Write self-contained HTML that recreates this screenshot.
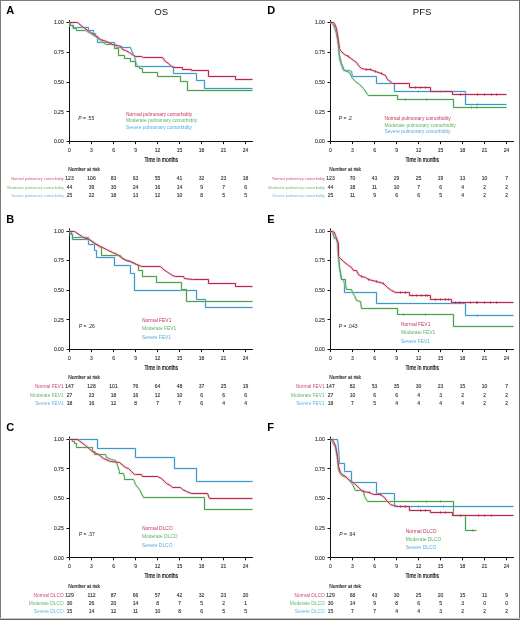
<!DOCTYPE html>
<html><head><meta charset="utf-8"><style>
html,body{margin:0;padding:0;background:#fff;}
body{width:520px;height:620px;overflow:hidden;}
svg{will-change:transform;position:absolute;left:0;top:0;font-family:"Liberation Sans",sans-serif;}
</style></head><body>
<svg width="520" height="620" viewBox="0 0 520 620">
<rect width="520" height="620" fill="#fff"/>
<text x="6.30" y="14.10" font-size="11" fill="#000" font-weight="bold">A</text>
<text x="161.21" y="14.60" font-size="9.6" fill="#111" text-anchor="middle">OS</text>
<path d="M69.50 20.00V141.50H252.92" fill="none" stroke="#111" stroke-width="1"/>
<path d="M66.50 22.50H69.50" stroke="#111" stroke-width="1"/>
<text x="63.70" y="24.40" font-size="5" fill="#333" text-anchor="end" stroke="#333" stroke-width="0.12">1.00</text>
<path d="M66.50 52.50H69.50" stroke="#111" stroke-width="1"/>
<text x="63.70" y="54.12" font-size="5" fill="#333" text-anchor="end" stroke="#333" stroke-width="0.12">0.75</text>
<path d="M66.50 82.50H69.50" stroke="#111" stroke-width="1"/>
<text x="63.70" y="83.85" font-size="5" fill="#333" text-anchor="end" stroke="#333" stroke-width="0.12">0.50</text>
<path d="M66.50 111.50H69.50" stroke="#111" stroke-width="1"/>
<text x="63.70" y="113.58" font-size="5" fill="#333" text-anchor="end" stroke="#333" stroke-width="0.12">0.25</text>
<path d="M66.50 141.50H69.50" stroke="#111" stroke-width="1"/>
<text x="63.70" y="143.30" font-size="5" fill="#333" text-anchor="end" stroke="#333" stroke-width="0.12">0.00</text>
<path d="M69.50 141.50V144.10" stroke="#111" stroke-width="1"/>
<text x="69.50" y="151.90" font-size="5" fill="#333" text-anchor="middle" stroke="#333" stroke-width="0.12">0</text>
<path d="M91.50 141.50V144.10" stroke="#111" stroke-width="1"/>
<text x="91.51" y="151.90" font-size="5" fill="#333" text-anchor="middle" stroke="#333" stroke-width="0.12">3</text>
<path d="M113.50 141.50V144.10" stroke="#111" stroke-width="1"/>
<text x="113.52" y="151.90" font-size="5" fill="#333" text-anchor="middle" stroke="#333" stroke-width="0.12">6</text>
<path d="M135.50 141.50V144.10" stroke="#111" stroke-width="1"/>
<text x="135.53" y="151.90" font-size="5" fill="#333" text-anchor="middle" stroke="#333" stroke-width="0.12">9</text>
<path d="M157.50 141.50V144.10" stroke="#111" stroke-width="1"/>
<text x="157.54" y="151.90" font-size="5" fill="#333" text-anchor="middle" stroke="#333" stroke-width="0.12">12</text>
<path d="M179.50 141.50V144.10" stroke="#111" stroke-width="1"/>
<text x="179.56" y="151.90" font-size="5" fill="#333" text-anchor="middle" stroke="#333" stroke-width="0.12">15</text>
<path d="M201.50 141.50V144.10" stroke="#111" stroke-width="1"/>
<text x="201.57" y="151.90" font-size="5" fill="#333" text-anchor="middle" stroke="#333" stroke-width="0.12">18</text>
<path d="M223.50 141.50V144.10" stroke="#111" stroke-width="1"/>
<text x="223.58" y="151.90" font-size="5" fill="#333" text-anchor="middle" stroke="#333" stroke-width="0.12">21</text>
<path d="M245.50 141.50V144.10" stroke="#111" stroke-width="1"/>
<text x="245.59" y="151.90" font-size="5" fill="#333" text-anchor="middle" stroke="#333" stroke-width="0.12">24</text>
<text x="161.21" y="162.10" font-size="7" fill="#111" stroke="#111" stroke-width="0.2" text-anchor="middle" textLength="33.5" lengthAdjust="spacingAndGlyphs">Time in months</text>
<text x="68.20" y="171.30" font-size="4.9" fill="#222" stroke="#222" stroke-width="0.12">Number at risk</text>
<text x="63.70" y="180.40" font-size="3.88" fill="#d6567e" text-anchor="end">Normal pulmonary comorbidity</text>
<text x="69.50" y="180.40" font-size="5" fill="#333" text-anchor="middle" stroke="#333" stroke-width="0.12">123</text>
<text x="91.51" y="180.40" font-size="5" fill="#333" text-anchor="middle" stroke="#333" stroke-width="0.12">106</text>
<text x="113.52" y="180.40" font-size="5" fill="#333" text-anchor="middle" stroke="#333" stroke-width="0.12">83</text>
<text x="135.53" y="180.40" font-size="5" fill="#333" text-anchor="middle" stroke="#333" stroke-width="0.12">63</text>
<text x="157.54" y="180.40" font-size="5" fill="#333" text-anchor="middle" stroke="#333" stroke-width="0.12">55</text>
<text x="179.56" y="180.40" font-size="5" fill="#333" text-anchor="middle" stroke="#333" stroke-width="0.12">41</text>
<text x="201.57" y="180.40" font-size="5" fill="#333" text-anchor="middle" stroke="#333" stroke-width="0.12">32</text>
<text x="223.58" y="180.40" font-size="5" fill="#333" text-anchor="middle" stroke="#333" stroke-width="0.12">23</text>
<text x="245.59" y="180.40" font-size="5" fill="#333" text-anchor="middle" stroke="#333" stroke-width="0.12">18</text>
<text x="63.70" y="188.70" font-size="3.88" fill="#6fbf6f" text-anchor="end">Moderate pulmonary comorbidity</text>
<text x="69.50" y="188.70" font-size="5" fill="#333" text-anchor="middle" stroke="#333" stroke-width="0.12">44</text>
<text x="91.51" y="188.70" font-size="5" fill="#333" text-anchor="middle" stroke="#333" stroke-width="0.12">39</text>
<text x="113.52" y="188.70" font-size="5" fill="#333" text-anchor="middle" stroke="#333" stroke-width="0.12">30</text>
<text x="135.53" y="188.70" font-size="5" fill="#333" text-anchor="middle" stroke="#333" stroke-width="0.12">24</text>
<text x="157.54" y="188.70" font-size="5" fill="#333" text-anchor="middle" stroke="#333" stroke-width="0.12">16</text>
<text x="179.56" y="188.70" font-size="5" fill="#333" text-anchor="middle" stroke="#333" stroke-width="0.12">14</text>
<text x="201.57" y="188.70" font-size="5" fill="#333" text-anchor="middle" stroke="#333" stroke-width="0.12">9</text>
<text x="223.58" y="188.70" font-size="5" fill="#333" text-anchor="middle" stroke="#333" stroke-width="0.12">7</text>
<text x="245.59" y="188.70" font-size="5" fill="#333" text-anchor="middle" stroke="#333" stroke-width="0.12">6</text>
<text x="63.70" y="197.00" font-size="3.88" fill="#6cbce6" text-anchor="end">Severe pulmonary comorbidity</text>
<text x="69.50" y="197.00" font-size="5" fill="#333" text-anchor="middle" stroke="#333" stroke-width="0.12">25</text>
<text x="91.51" y="197.00" font-size="5" fill="#333" text-anchor="middle" stroke="#333" stroke-width="0.12">22</text>
<text x="113.52" y="197.00" font-size="5" fill="#333" text-anchor="middle" stroke="#333" stroke-width="0.12">18</text>
<text x="135.53" y="197.00" font-size="5" fill="#333" text-anchor="middle" stroke="#333" stroke-width="0.12">13</text>
<text x="157.54" y="197.00" font-size="5" fill="#333" text-anchor="middle" stroke="#333" stroke-width="0.12">12</text>
<text x="179.56" y="197.00" font-size="5" fill="#333" text-anchor="middle" stroke="#333" stroke-width="0.12">10</text>
<text x="201.57" y="197.00" font-size="5" fill="#333" text-anchor="middle" stroke="#333" stroke-width="0.12">8</text>
<text x="223.58" y="197.00" font-size="5" fill="#333" text-anchor="middle" stroke="#333" stroke-width="0.12">5</text>
<text x="245.59" y="197.00" font-size="5" fill="#333" text-anchor="middle" stroke="#333" stroke-width="0.12">5</text>
<text x="78.20" y="119.90" font-size="5" fill="#222"><tspan font-style="italic">P</tspan> = .55</text>
<text x="126.00" y="115.60" font-size="4.9" fill="#c8305a">Normal pulmonary comorbidity</text>
<text x="126.00" y="122.30" font-size="4.9" fill="#5cb25c">Moderate pulmonary comorbidity</text>
<text x="126.00" y="129.00" font-size="4.9" fill="#55aade">Severe pulmonary comorbidity</text>
<path d="M69.5 22.5 L70.5 22.5 L70.5 25.5 L72.5 25.5 L72.5 27.5 L88.5 27.5 L88.5 30.5 L93.5 30.5 L93.5 33.5 L95.5 33.5 L95.5 36.5 L97.5 36.5 L97.5 42.5 L114.5 42.5 L114.5 45.5 L116.5 45.5 L116.5 47.5 L130.5 47.5 L131.5 50.5 L133.5 54.5 L134.5 55.5 L135.5 61.5 L137.5 66.5 L173.5 66.5 L173.5 73.5 L196.5 73.5 L196.5 80.5 L204.5 80.5 L204.5 88.5 L252.5 88.5" fill="none" stroke="#b0ddf2" stroke-width="2.6" stroke-opacity="0.45"/>
<path d="M69.5 22.5 L70.5 22.5 L70.5 25.5 L72.5 25.5 L72.5 27.5 L88.5 27.5 L88.5 30.5 L93.5 30.5 L93.5 33.5 L95.5 33.5 L95.5 36.5 L97.5 36.5 L97.5 42.5 L114.5 42.5 L114.5 45.5 L116.5 45.5 L116.5 47.5 L130.5 47.5 L131.5 50.5 L133.5 54.5 L134.5 55.5 L135.5 61.5 L137.5 66.5 L173.5 66.5 L173.5 73.5 L196.5 73.5 L196.5 80.5 L204.5 80.5 L204.5 88.5 L252.5 88.5" fill="none" stroke="#4096c8" stroke-width="1"/>
<path d="M69.5 22.5 L70.5 22.5 L70.5 25.5 L73.5 25.5 L73.5 28.5 L76.5 28.5 L76.5 30.5 L85.5 30.5 L90.5 33.5 L95.5 36.5 L100.5 40.5 L106.5 44.5 L114.5 44.5 L114.5 48.5 L118.5 48.5 L118.5 55.5 L124.5 55.5 L124.5 58.5 L130.5 58.5 L130.5 61.5 L135.5 61.5 L135.5 66.5 L139.5 66.5 L139.5 68.5 L142.5 68.5 L142.5 72.5 L157.5 72.5 L157.5 76.5 L180.5 76.5 L180.5 81.5 L187.5 81.5 L187.5 90.5 L252.5 90.5" fill="none" stroke="#b8e0b8" stroke-width="2.6" stroke-opacity="0.45"/>
<path d="M69.5 22.5 L70.5 22.5 L70.5 25.5 L73.5 25.5 L73.5 28.5 L76.5 28.5 L76.5 30.5 L85.5 30.5 L90.5 33.5 L95.5 36.5 L100.5 40.5 L106.5 44.5 L114.5 44.5 L114.5 48.5 L118.5 48.5 L118.5 55.5 L124.5 55.5 L124.5 58.5 L130.5 58.5 L130.5 61.5 L135.5 61.5 L135.5 66.5 L139.5 66.5 L139.5 68.5 L142.5 68.5 L142.5 72.5 L157.5 72.5 L157.5 76.5 L180.5 76.5 L180.5 81.5 L187.5 81.5 L187.5 90.5 L252.5 90.5" fill="none" stroke="#4a9e4c" stroke-width="1"/>
<path d="M69.5 22.5 L77.5 22.5 L83.5 27.5 L89.5 31.5 L95.5 35.5 L100.5 39.5 L106.5 41.5 L112.5 44.5 L117.5 45.5 L121.5 46.5 L122.5 49.5 L125.5 50.5 L129.5 52.5 L133.5 55.5 L135.5 56.5 L141.5 56.5 L143.5 57.5 L162.5 57.5 L165.5 61.5 L168.5 63.5 L171.5 66.5 L173.5 67.5 L182.5 67.5 L182.5 69.5 L191.5 69.5 L191.5 70.5 L208.5 70.5 L208.5 76.5 L235.5 76.5 L235.5 79.5 L252.5 79.5" fill="none" stroke="#e8a0b4" stroke-width="2.6" stroke-opacity="0.45"/>
<path d="M69.5 22.5 L77.5 22.5 L83.5 27.5 L89.5 31.5 L95.5 35.5 L100.5 39.5 L106.5 41.5 L112.5 44.5 L117.5 45.5 L121.5 46.5 L122.5 49.5 L125.5 50.5 L129.5 52.5 L133.5 55.5 L135.5 56.5 L141.5 56.5 L143.5 57.5 L162.5 57.5 L165.5 61.5 L168.5 63.5 L171.5 66.5 L173.5 67.5 L182.5 67.5 L182.5 69.5 L191.5 69.5 L191.5 70.5 L208.5 70.5 L208.5 76.5 L235.5 76.5 L235.5 79.5 L252.5 79.5" fill="none" stroke="#b52a50" stroke-width="1"/>
<text x="267.30" y="14.10" font-size="11" fill="#000" font-weight="bold">D</text>
<text x="422.21" y="14.60" font-size="9.6" fill="#111" text-anchor="middle">PFS</text>
<path d="M330.50 20.00V141.50H513.92" fill="none" stroke="#111" stroke-width="1"/>
<path d="M327.50 22.50H330.50" stroke="#111" stroke-width="1"/>
<text x="324.70" y="24.40" font-size="5" fill="#333" text-anchor="end" stroke="#333" stroke-width="0.12">1.00</text>
<path d="M327.50 52.50H330.50" stroke="#111" stroke-width="1"/>
<text x="324.70" y="54.12" font-size="5" fill="#333" text-anchor="end" stroke="#333" stroke-width="0.12">0.75</text>
<path d="M327.50 82.50H330.50" stroke="#111" stroke-width="1"/>
<text x="324.70" y="83.85" font-size="5" fill="#333" text-anchor="end" stroke="#333" stroke-width="0.12">0.50</text>
<path d="M327.50 111.50H330.50" stroke="#111" stroke-width="1"/>
<text x="324.70" y="113.58" font-size="5" fill="#333" text-anchor="end" stroke="#333" stroke-width="0.12">0.25</text>
<path d="M327.50 141.50H330.50" stroke="#111" stroke-width="1"/>
<text x="324.70" y="143.30" font-size="5" fill="#333" text-anchor="end" stroke="#333" stroke-width="0.12">0.00</text>
<path d="M330.50 141.50V144.10" stroke="#111" stroke-width="1"/>
<text x="330.50" y="151.90" font-size="5" fill="#333" text-anchor="middle" stroke="#333" stroke-width="0.12">0</text>
<path d="M352.50 141.50V144.10" stroke="#111" stroke-width="1"/>
<text x="352.51" y="151.90" font-size="5" fill="#333" text-anchor="middle" stroke="#333" stroke-width="0.12">3</text>
<path d="M374.50 141.50V144.10" stroke="#111" stroke-width="1"/>
<text x="374.52" y="151.90" font-size="5" fill="#333" text-anchor="middle" stroke="#333" stroke-width="0.12">6</text>
<path d="M396.50 141.50V144.10" stroke="#111" stroke-width="1"/>
<text x="396.53" y="151.90" font-size="5" fill="#333" text-anchor="middle" stroke="#333" stroke-width="0.12">9</text>
<path d="M418.50 141.50V144.10" stroke="#111" stroke-width="1"/>
<text x="418.54" y="151.90" font-size="5" fill="#333" text-anchor="middle" stroke="#333" stroke-width="0.12">12</text>
<path d="M440.50 141.50V144.10" stroke="#111" stroke-width="1"/>
<text x="440.56" y="151.90" font-size="5" fill="#333" text-anchor="middle" stroke="#333" stroke-width="0.12">15</text>
<path d="M462.50 141.50V144.10" stroke="#111" stroke-width="1"/>
<text x="462.57" y="151.90" font-size="5" fill="#333" text-anchor="middle" stroke="#333" stroke-width="0.12">18</text>
<path d="M484.50 141.50V144.10" stroke="#111" stroke-width="1"/>
<text x="484.58" y="151.90" font-size="5" fill="#333" text-anchor="middle" stroke="#333" stroke-width="0.12">21</text>
<path d="M506.50 141.50V144.10" stroke="#111" stroke-width="1"/>
<text x="506.59" y="151.90" font-size="5" fill="#333" text-anchor="middle" stroke="#333" stroke-width="0.12">24</text>
<text x="422.21" y="162.10" font-size="7" fill="#111" stroke="#111" stroke-width="0.2" text-anchor="middle" textLength="33.5" lengthAdjust="spacingAndGlyphs">Time in months</text>
<text x="329.20" y="171.30" font-size="4.9" fill="#222" stroke="#222" stroke-width="0.12">Number at risk</text>
<text x="324.70" y="180.40" font-size="3.88" fill="#d6567e" text-anchor="end">Normal pulmonary comorbidity</text>
<text x="330.50" y="180.40" font-size="5" fill="#333" text-anchor="middle" stroke="#333" stroke-width="0.12">123</text>
<text x="352.51" y="180.40" font-size="5" fill="#333" text-anchor="middle" stroke="#333" stroke-width="0.12">70</text>
<text x="374.52" y="180.40" font-size="5" fill="#333" text-anchor="middle" stroke="#333" stroke-width="0.12">43</text>
<text x="396.53" y="180.40" font-size="5" fill="#333" text-anchor="middle" stroke="#333" stroke-width="0.12">29</text>
<text x="418.54" y="180.40" font-size="5" fill="#333" text-anchor="middle" stroke="#333" stroke-width="0.12">25</text>
<text x="440.56" y="180.40" font-size="5" fill="#333" text-anchor="middle" stroke="#333" stroke-width="0.12">19</text>
<text x="462.57" y="180.40" font-size="5" fill="#333" text-anchor="middle" stroke="#333" stroke-width="0.12">13</text>
<text x="484.58" y="180.40" font-size="5" fill="#333" text-anchor="middle" stroke="#333" stroke-width="0.12">10</text>
<text x="506.59" y="180.40" font-size="5" fill="#333" text-anchor="middle" stroke="#333" stroke-width="0.12">7</text>
<text x="324.70" y="188.70" font-size="3.88" fill="#6fbf6f" text-anchor="end">Moderate pulmonary comorbidity</text>
<text x="330.50" y="188.70" font-size="5" fill="#333" text-anchor="middle" stroke="#333" stroke-width="0.12">44</text>
<text x="352.51" y="188.70" font-size="5" fill="#333" text-anchor="middle" stroke="#333" stroke-width="0.12">18</text>
<text x="374.52" y="188.70" font-size="5" fill="#333" text-anchor="middle" stroke="#333" stroke-width="0.12">11</text>
<text x="396.53" y="188.70" font-size="5" fill="#333" text-anchor="middle" stroke="#333" stroke-width="0.12">10</text>
<text x="418.54" y="188.70" font-size="5" fill="#333" text-anchor="middle" stroke="#333" stroke-width="0.12">7</text>
<text x="440.56" y="188.70" font-size="5" fill="#333" text-anchor="middle" stroke="#333" stroke-width="0.12">6</text>
<text x="462.57" y="188.70" font-size="5" fill="#333" text-anchor="middle" stroke="#333" stroke-width="0.12">4</text>
<text x="484.58" y="188.70" font-size="5" fill="#333" text-anchor="middle" stroke="#333" stroke-width="0.12">2</text>
<text x="506.59" y="188.70" font-size="5" fill="#333" text-anchor="middle" stroke="#333" stroke-width="0.12">2</text>
<text x="324.70" y="197.00" font-size="3.88" fill="#6cbce6" text-anchor="end">Severe pulmonary comorbidity</text>
<text x="330.50" y="197.00" font-size="5" fill="#333" text-anchor="middle" stroke="#333" stroke-width="0.12">25</text>
<text x="352.51" y="197.00" font-size="5" fill="#333" text-anchor="middle" stroke="#333" stroke-width="0.12">11</text>
<text x="374.52" y="197.00" font-size="5" fill="#333" text-anchor="middle" stroke="#333" stroke-width="0.12">9</text>
<text x="396.53" y="197.00" font-size="5" fill="#333" text-anchor="middle" stroke="#333" stroke-width="0.12">6</text>
<text x="418.54" y="197.00" font-size="5" fill="#333" text-anchor="middle" stroke="#333" stroke-width="0.12">6</text>
<text x="440.56" y="197.00" font-size="5" fill="#333" text-anchor="middle" stroke="#333" stroke-width="0.12">5</text>
<text x="462.57" y="197.00" font-size="5" fill="#333" text-anchor="middle" stroke="#333" stroke-width="0.12">4</text>
<text x="484.58" y="197.00" font-size="5" fill="#333" text-anchor="middle" stroke="#333" stroke-width="0.12">2</text>
<text x="506.59" y="197.00" font-size="5" fill="#333" text-anchor="middle" stroke="#333" stroke-width="0.12">2</text>
<text x="338.70" y="119.80" font-size="5" fill="#222"><tspan font-style="italic">P</tspan> = .2</text>
<text x="384.40" y="119.80" font-size="4.9" fill="#c8305a">Normal pulmonary comorbidity</text>
<text x="384.40" y="126.50" font-size="4.9" fill="#5cb25c">Moderate pulmonary comorbidity</text>
<text x="384.40" y="133.20" font-size="4.9" fill="#55aade">Severe pulmonary comorbidity</text>
<path d="M330.5 22.5 L333.5 22.5 L335.5 28.5 L337.5 38.5 L338.5 48.5 L339.5 59.5 L341.5 65.5 L343.5 70.5 L349.5 70.5 L351.5 71.5 L352.5 76.5 L376.5 76.5 L376.5 83.5 L394.5 83.5 L394.5 91.5 L465.5 91.5 L465.5 104.5 L506.5 104.5" fill="none" stroke="#b0ddf2" stroke-width="2.6" stroke-opacity="0.45"/>
<path d="M330.5 22.5 L333.5 22.5 L335.5 28.5 L337.5 38.5 L338.5 48.5 L339.5 59.5 L341.5 65.5 L343.5 70.5 L349.5 70.5 L351.5 71.5 L352.5 76.5 L376.5 76.5 L376.5 83.5 L394.5 83.5 L394.5 91.5 L465.5 91.5 L465.5 104.5 L506.5 104.5" fill="none" stroke="#4096c8" stroke-width="1"/>
<path d="M330.5 22.5 L332.5 23.5 L334.5 27.5 L336.5 33.5 L338.5 45.5 L339.5 55.5 L341.5 63.5 L344.5 70.5 L349.5 72.5 L352.5 78.5 L355.5 81.5 L359.5 84.5 L363.5 88.5 L367.5 94.5 L368.5 95.5 L397.5 95.5 L397.5 99.5 L453.5 99.5 L453.5 107.5 L506.5 107.5" fill="none" stroke="#b8e0b8" stroke-width="2.6" stroke-opacity="0.45"/>
<path d="M330.5 22.5 L332.5 23.5 L334.5 27.5 L336.5 33.5 L338.5 45.5 L339.5 55.5 L341.5 63.5 L344.5 70.5 L349.5 72.5 L352.5 78.5 L355.5 81.5 L359.5 84.5 L363.5 88.5 L367.5 94.5 L368.5 95.5 L397.5 95.5 L397.5 99.5 L453.5 99.5 L453.5 107.5 L506.5 107.5" fill="none" stroke="#4a9e4c" stroke-width="1"/>
<path d="M330.5 22.5 L333.5 22.5 L334.5 23.5 L336.5 28.5 L338.5 40.5 L339.5 48.5 L340.5 50.5 L344.5 54.5 L348.5 56.5 L353.5 60.5 L356.5 62.5 L358.5 65.5 L361.5 68.5 L366.5 69.5 L370.5 69.5 L375.5 71.5 L381.5 73.5 L385.5 75.5 L387.5 79.5 L391.5 82.5 L392.5 83.5 L409.5 83.5 L409.5 87.5 L430.5 87.5 L430.5 91.5 L452.5 91.5 L452.5 94.5 L506.5 94.5" fill="none" stroke="#e8a0b4" stroke-width="2.6" stroke-opacity="0.45"/>
<path d="M330.5 22.5 L333.5 22.5 L334.5 23.5 L336.5 28.5 L338.5 40.5 L339.5 48.5 L340.5 50.5 L344.5 54.5 L348.5 56.5 L353.5 60.5 L356.5 62.5 L358.5 65.5 L361.5 68.5 L366.5 69.5 L370.5 69.5 L375.5 71.5 L381.5 73.5 L385.5 75.5 L387.5 79.5 L391.5 82.5 L392.5 83.5 L409.5 83.5 L409.5 87.5 L430.5 87.5 L430.5 91.5 L452.5 91.5 L452.5 94.5 L506.5 94.5" fill="none" stroke="#b52a50" stroke-width="1"/>
<text x="6.30" y="222.60" font-size="11" fill="#000" font-weight="bold">B</text>
<path d="M69.50 228.40V349.50H252.92" fill="none" stroke="#111" stroke-width="1"/>
<path d="M66.50 231.50H69.50" stroke="#111" stroke-width="1"/>
<text x="63.70" y="232.80" font-size="5" fill="#333" text-anchor="end" stroke="#333" stroke-width="0.12">1.00</text>
<path d="M66.50 260.50H69.50" stroke="#111" stroke-width="1"/>
<text x="63.70" y="262.43" font-size="5" fill="#333" text-anchor="end" stroke="#333" stroke-width="0.12">0.75</text>
<path d="M66.50 290.50H69.50" stroke="#111" stroke-width="1"/>
<text x="63.70" y="292.05" font-size="5" fill="#333" text-anchor="end" stroke="#333" stroke-width="0.12">0.50</text>
<path d="M66.50 319.50H69.50" stroke="#111" stroke-width="1"/>
<text x="63.70" y="321.68" font-size="5" fill="#333" text-anchor="end" stroke="#333" stroke-width="0.12">0.25</text>
<path d="M66.50 349.50H69.50" stroke="#111" stroke-width="1"/>
<text x="63.70" y="351.30" font-size="5" fill="#333" text-anchor="end" stroke="#333" stroke-width="0.12">0.00</text>
<path d="M69.50 349.50V352.10" stroke="#111" stroke-width="1"/>
<text x="69.50" y="359.90" font-size="5" fill="#333" text-anchor="middle" stroke="#333" stroke-width="0.12">0</text>
<path d="M91.50 349.50V352.10" stroke="#111" stroke-width="1"/>
<text x="91.51" y="359.90" font-size="5" fill="#333" text-anchor="middle" stroke="#333" stroke-width="0.12">3</text>
<path d="M113.50 349.50V352.10" stroke="#111" stroke-width="1"/>
<text x="113.52" y="359.90" font-size="5" fill="#333" text-anchor="middle" stroke="#333" stroke-width="0.12">6</text>
<path d="M135.50 349.50V352.10" stroke="#111" stroke-width="1"/>
<text x="135.53" y="359.90" font-size="5" fill="#333" text-anchor="middle" stroke="#333" stroke-width="0.12">9</text>
<path d="M157.50 349.50V352.10" stroke="#111" stroke-width="1"/>
<text x="157.54" y="359.90" font-size="5" fill="#333" text-anchor="middle" stroke="#333" stroke-width="0.12">12</text>
<path d="M179.50 349.50V352.10" stroke="#111" stroke-width="1"/>
<text x="179.56" y="359.90" font-size="5" fill="#333" text-anchor="middle" stroke="#333" stroke-width="0.12">15</text>
<path d="M201.50 349.50V352.10" stroke="#111" stroke-width="1"/>
<text x="201.57" y="359.90" font-size="5" fill="#333" text-anchor="middle" stroke="#333" stroke-width="0.12">18</text>
<path d="M223.50 349.50V352.10" stroke="#111" stroke-width="1"/>
<text x="223.58" y="359.90" font-size="5" fill="#333" text-anchor="middle" stroke="#333" stroke-width="0.12">21</text>
<path d="M245.50 349.50V352.10" stroke="#111" stroke-width="1"/>
<text x="245.59" y="359.90" font-size="5" fill="#333" text-anchor="middle" stroke="#333" stroke-width="0.12">24</text>
<text x="161.21" y="370.10" font-size="7" fill="#111" stroke="#111" stroke-width="0.2" text-anchor="middle" textLength="33.5" lengthAdjust="spacingAndGlyphs">Time in months</text>
<text x="68.20" y="379.30" font-size="4.9" fill="#222" stroke="#222" stroke-width="0.12">Number at risk</text>
<text x="63.70" y="388.40" font-size="4.8" fill="#d04a72" text-anchor="end">Normal FEV1</text>
<text x="69.50" y="388.40" font-size="5" fill="#333" text-anchor="middle" stroke="#333" stroke-width="0.12">147</text>
<text x="91.51" y="388.40" font-size="5" fill="#333" text-anchor="middle" stroke="#333" stroke-width="0.12">128</text>
<text x="113.52" y="388.40" font-size="5" fill="#333" text-anchor="middle" stroke="#333" stroke-width="0.12">101</text>
<text x="135.53" y="388.40" font-size="5" fill="#333" text-anchor="middle" stroke="#333" stroke-width="0.12">76</text>
<text x="157.54" y="388.40" font-size="5" fill="#333" text-anchor="middle" stroke="#333" stroke-width="0.12">64</text>
<text x="179.56" y="388.40" font-size="5" fill="#333" text-anchor="middle" stroke="#333" stroke-width="0.12">48</text>
<text x="201.57" y="388.40" font-size="5" fill="#333" text-anchor="middle" stroke="#333" stroke-width="0.12">37</text>
<text x="223.58" y="388.40" font-size="5" fill="#333" text-anchor="middle" stroke="#333" stroke-width="0.12">25</text>
<text x="245.59" y="388.40" font-size="5" fill="#333" text-anchor="middle" stroke="#333" stroke-width="0.12">19</text>
<text x="63.70" y="396.70" font-size="4.8" fill="#66ba66" text-anchor="end">Moderate FEV1</text>
<text x="69.50" y="396.70" font-size="5" fill="#333" text-anchor="middle" stroke="#333" stroke-width="0.12">27</text>
<text x="91.51" y="396.70" font-size="5" fill="#333" text-anchor="middle" stroke="#333" stroke-width="0.12">23</text>
<text x="113.52" y="396.70" font-size="5" fill="#333" text-anchor="middle" stroke="#333" stroke-width="0.12">18</text>
<text x="135.53" y="396.70" font-size="5" fill="#333" text-anchor="middle" stroke="#333" stroke-width="0.12">16</text>
<text x="157.54" y="396.70" font-size="5" fill="#333" text-anchor="middle" stroke="#333" stroke-width="0.12">12</text>
<text x="179.56" y="396.70" font-size="5" fill="#333" text-anchor="middle" stroke="#333" stroke-width="0.12">10</text>
<text x="201.57" y="396.70" font-size="5" fill="#333" text-anchor="middle" stroke="#333" stroke-width="0.12">6</text>
<text x="223.58" y="396.70" font-size="5" fill="#333" text-anchor="middle" stroke="#333" stroke-width="0.12">6</text>
<text x="245.59" y="396.70" font-size="5" fill="#333" text-anchor="middle" stroke="#333" stroke-width="0.12">6</text>
<text x="63.70" y="405.00" font-size="4.8" fill="#62b4e2" text-anchor="end">Severe FEV1</text>
<text x="69.50" y="405.00" font-size="5" fill="#333" text-anchor="middle" stroke="#333" stroke-width="0.12">18</text>
<text x="91.51" y="405.00" font-size="5" fill="#333" text-anchor="middle" stroke="#333" stroke-width="0.12">16</text>
<text x="113.52" y="405.00" font-size="5" fill="#333" text-anchor="middle" stroke="#333" stroke-width="0.12">12</text>
<text x="135.53" y="405.00" font-size="5" fill="#333" text-anchor="middle" stroke="#333" stroke-width="0.12">8</text>
<text x="157.54" y="405.00" font-size="5" fill="#333" text-anchor="middle" stroke="#333" stroke-width="0.12">7</text>
<text x="179.56" y="405.00" font-size="5" fill="#333" text-anchor="middle" stroke="#333" stroke-width="0.12">7</text>
<text x="201.57" y="405.00" font-size="5" fill="#333" text-anchor="middle" stroke="#333" stroke-width="0.12">6</text>
<text x="223.58" y="405.00" font-size="5" fill="#333" text-anchor="middle" stroke="#333" stroke-width="0.12">4</text>
<text x="245.59" y="405.00" font-size="5" fill="#333" text-anchor="middle" stroke="#333" stroke-width="0.12">4</text>
<text x="78.80" y="327.90" font-size="5" fill="#222"><tspan font-style="italic">P</tspan> = .26</text>
<text x="142.00" y="321.70" font-size="4.9" fill="#c8305a">Normal FEV1</text>
<text x="142.00" y="330.10" font-size="4.9" fill="#5cb25c">Moderate FEV1</text>
<text x="142.00" y="338.50" font-size="4.9" fill="#55aade">Severe FEV1</text>
<path d="M69.5 231.5 L70.5 231.5 L70.5 234.5 L72.5 234.5 L72.5 237.5 L88.5 237.5 L88.5 244.5 L94.5 244.5 L94.5 250.5 L96.5 250.5 L96.5 257.5 L114.5 257.5 L114.5 265.5 L130.5 265.5 L130.5 273.5 L134.5 273.5 L134.5 290.5 L196.5 290.5 L196.5 299.5 L205.5 299.5 L205.5 307.5 L252.5 307.5" fill="none" stroke="#b0ddf2" stroke-width="2.6" stroke-opacity="0.45"/>
<path d="M69.5 231.5 L70.5 231.5 L70.5 234.5 L72.5 234.5 L72.5 237.5 L88.5 237.5 L88.5 244.5 L94.5 244.5 L94.5 250.5 L96.5 250.5 L96.5 257.5 L114.5 257.5 L114.5 265.5 L130.5 265.5 L130.5 273.5 L134.5 273.5 L134.5 290.5 L196.5 290.5 L196.5 299.5 L205.5 299.5 L205.5 307.5 L252.5 307.5" fill="none" stroke="#4096c8" stroke-width="1"/>
<path d="M69.5 231.5 L71.5 231.5 L71.5 234.5 L72.5 234.5 L72.5 239.5 L88.5 239.5 L92.5 241.5 L95.5 243.5 L100.5 247.5 L101.5 247.5 L101.5 255.5 L120.5 255.5 L122.5 258.5 L126.5 260.5 L130.5 261.5 L136.5 264.5 L138.5 265.5 L138.5 270.5 L142.5 270.5 L142.5 276.5 L156.5 276.5 L156.5 282.5 L181.5 282.5 L181.5 289.5 L186.5 289.5 L186.5 301.5 L252.5 301.5" fill="none" stroke="#b8e0b8" stroke-width="2.6" stroke-opacity="0.45"/>
<path d="M69.5 231.5 L71.5 231.5 L71.5 234.5 L72.5 234.5 L72.5 239.5 L88.5 239.5 L92.5 241.5 L95.5 243.5 L100.5 247.5 L101.5 247.5 L101.5 255.5 L120.5 255.5 L122.5 258.5 L126.5 260.5 L130.5 261.5 L136.5 264.5 L138.5 265.5 L138.5 270.5 L142.5 270.5 L142.5 276.5 L156.5 276.5 L156.5 282.5 L181.5 282.5 L181.5 289.5 L186.5 289.5 L186.5 301.5 L252.5 301.5" fill="none" stroke="#4a9e4c" stroke-width="1"/>
<path d="M69.5 231.5 L74.5 231.5 L83.5 237.5 L89.5 239.5 L94.5 243.5 L100.5 246.5 L106.5 249.5 L112.5 252.5 L117.5 254.5 L122.5 258.5 L126.5 260.5 L130.5 261.5 L136.5 264.5 L141.5 266.5 L160.5 266.5 L163.5 269.5 L166.5 271.5 L169.5 273.5 L172.5 275.5 L175.5 276.5 L183.5 276.5 L184.5 278.5 L192.5 279.5 L208.5 279.5 L208.5 283.5 L235.5 283.5 L235.5 286.5 L252.5 286.5" fill="none" stroke="#e8a0b4" stroke-width="2.6" stroke-opacity="0.45"/>
<path d="M69.5 231.5 L74.5 231.5 L83.5 237.5 L89.5 239.5 L94.5 243.5 L100.5 246.5 L106.5 249.5 L112.5 252.5 L117.5 254.5 L122.5 258.5 L126.5 260.5 L130.5 261.5 L136.5 264.5 L141.5 266.5 L160.5 266.5 L163.5 269.5 L166.5 271.5 L169.5 273.5 L172.5 275.5 L175.5 276.5 L183.5 276.5 L184.5 278.5 L192.5 279.5 L208.5 279.5 L208.5 283.5 L235.5 283.5 L235.5 286.5 L252.5 286.5" fill="none" stroke="#b52a50" stroke-width="1"/>
<text x="267.30" y="222.60" font-size="11" fill="#000" font-weight="bold">E</text>
<path d="M330.50 228.40V349.50H513.92" fill="none" stroke="#111" stroke-width="1"/>
<path d="M327.50 231.50H330.50" stroke="#111" stroke-width="1"/>
<text x="324.70" y="232.80" font-size="5" fill="#333" text-anchor="end" stroke="#333" stroke-width="0.12">1.00</text>
<path d="M327.50 260.50H330.50" stroke="#111" stroke-width="1"/>
<text x="324.70" y="262.43" font-size="5" fill="#333" text-anchor="end" stroke="#333" stroke-width="0.12">0.75</text>
<path d="M327.50 290.50H330.50" stroke="#111" stroke-width="1"/>
<text x="324.70" y="292.05" font-size="5" fill="#333" text-anchor="end" stroke="#333" stroke-width="0.12">0.50</text>
<path d="M327.50 319.50H330.50" stroke="#111" stroke-width="1"/>
<text x="324.70" y="321.68" font-size="5" fill="#333" text-anchor="end" stroke="#333" stroke-width="0.12">0.25</text>
<path d="M327.50 349.50H330.50" stroke="#111" stroke-width="1"/>
<text x="324.70" y="351.30" font-size="5" fill="#333" text-anchor="end" stroke="#333" stroke-width="0.12">0.00</text>
<path d="M330.50 349.50V352.10" stroke="#111" stroke-width="1"/>
<text x="330.50" y="359.90" font-size="5" fill="#333" text-anchor="middle" stroke="#333" stroke-width="0.12">0</text>
<path d="M352.50 349.50V352.10" stroke="#111" stroke-width="1"/>
<text x="352.51" y="359.90" font-size="5" fill="#333" text-anchor="middle" stroke="#333" stroke-width="0.12">3</text>
<path d="M374.50 349.50V352.10" stroke="#111" stroke-width="1"/>
<text x="374.52" y="359.90" font-size="5" fill="#333" text-anchor="middle" stroke="#333" stroke-width="0.12">6</text>
<path d="M396.50 349.50V352.10" stroke="#111" stroke-width="1"/>
<text x="396.53" y="359.90" font-size="5" fill="#333" text-anchor="middle" stroke="#333" stroke-width="0.12">9</text>
<path d="M418.50 349.50V352.10" stroke="#111" stroke-width="1"/>
<text x="418.54" y="359.90" font-size="5" fill="#333" text-anchor="middle" stroke="#333" stroke-width="0.12">12</text>
<path d="M440.50 349.50V352.10" stroke="#111" stroke-width="1"/>
<text x="440.56" y="359.90" font-size="5" fill="#333" text-anchor="middle" stroke="#333" stroke-width="0.12">15</text>
<path d="M462.50 349.50V352.10" stroke="#111" stroke-width="1"/>
<text x="462.57" y="359.90" font-size="5" fill="#333" text-anchor="middle" stroke="#333" stroke-width="0.12">18</text>
<path d="M484.50 349.50V352.10" stroke="#111" stroke-width="1"/>
<text x="484.58" y="359.90" font-size="5" fill="#333" text-anchor="middle" stroke="#333" stroke-width="0.12">21</text>
<path d="M506.50 349.50V352.10" stroke="#111" stroke-width="1"/>
<text x="506.59" y="359.90" font-size="5" fill="#333" text-anchor="middle" stroke="#333" stroke-width="0.12">24</text>
<text x="422.21" y="370.10" font-size="7" fill="#111" stroke="#111" stroke-width="0.2" text-anchor="middle" textLength="33.5" lengthAdjust="spacingAndGlyphs">Time in months</text>
<text x="329.20" y="379.30" font-size="4.9" fill="#222" stroke="#222" stroke-width="0.12">Number at risk</text>
<text x="324.70" y="388.40" font-size="4.8" fill="#d04a72" text-anchor="end">Normal FEV1</text>
<text x="330.50" y="388.40" font-size="5" fill="#333" text-anchor="middle" stroke="#333" stroke-width="0.12">147</text>
<text x="352.51" y="388.40" font-size="5" fill="#333" text-anchor="middle" stroke="#333" stroke-width="0.12">82</text>
<text x="374.52" y="388.40" font-size="5" fill="#333" text-anchor="middle" stroke="#333" stroke-width="0.12">53</text>
<text x="396.53" y="388.40" font-size="5" fill="#333" text-anchor="middle" stroke="#333" stroke-width="0.12">35</text>
<text x="418.54" y="388.40" font-size="5" fill="#333" text-anchor="middle" stroke="#333" stroke-width="0.12">30</text>
<text x="440.56" y="388.40" font-size="5" fill="#333" text-anchor="middle" stroke="#333" stroke-width="0.12">23</text>
<text x="462.57" y="388.40" font-size="5" fill="#333" text-anchor="middle" stroke="#333" stroke-width="0.12">15</text>
<text x="484.58" y="388.40" font-size="5" fill="#333" text-anchor="middle" stroke="#333" stroke-width="0.12">10</text>
<text x="506.59" y="388.40" font-size="5" fill="#333" text-anchor="middle" stroke="#333" stroke-width="0.12">7</text>
<text x="324.70" y="396.70" font-size="4.8" fill="#66ba66" text-anchor="end">Moderate FEV1</text>
<text x="330.50" y="396.70" font-size="5" fill="#333" text-anchor="middle" stroke="#333" stroke-width="0.12">27</text>
<text x="352.51" y="396.70" font-size="5" fill="#333" text-anchor="middle" stroke="#333" stroke-width="0.12">10</text>
<text x="374.52" y="396.70" font-size="5" fill="#333" text-anchor="middle" stroke="#333" stroke-width="0.12">6</text>
<text x="396.53" y="396.70" font-size="5" fill="#333" text-anchor="middle" stroke="#333" stroke-width="0.12">6</text>
<text x="418.54" y="396.70" font-size="5" fill="#333" text-anchor="middle" stroke="#333" stroke-width="0.12">4</text>
<text x="440.56" y="396.70" font-size="5" fill="#333" text-anchor="middle" stroke="#333" stroke-width="0.12">3</text>
<text x="462.57" y="396.70" font-size="5" fill="#333" text-anchor="middle" stroke="#333" stroke-width="0.12">2</text>
<text x="484.58" y="396.70" font-size="5" fill="#333" text-anchor="middle" stroke="#333" stroke-width="0.12">2</text>
<text x="506.59" y="396.70" font-size="5" fill="#333" text-anchor="middle" stroke="#333" stroke-width="0.12">2</text>
<text x="324.70" y="405.00" font-size="4.8" fill="#62b4e2" text-anchor="end">Severe FEV1</text>
<text x="330.50" y="405.00" font-size="5" fill="#333" text-anchor="middle" stroke="#333" stroke-width="0.12">18</text>
<text x="352.51" y="405.00" font-size="5" fill="#333" text-anchor="middle" stroke="#333" stroke-width="0.12">7</text>
<text x="374.52" y="405.00" font-size="5" fill="#333" text-anchor="middle" stroke="#333" stroke-width="0.12">5</text>
<text x="396.53" y="405.00" font-size="5" fill="#333" text-anchor="middle" stroke="#333" stroke-width="0.12">4</text>
<text x="418.54" y="405.00" font-size="5" fill="#333" text-anchor="middle" stroke="#333" stroke-width="0.12">4</text>
<text x="440.56" y="405.00" font-size="5" fill="#333" text-anchor="middle" stroke="#333" stroke-width="0.12">4</text>
<text x="462.57" y="405.00" font-size="5" fill="#333" text-anchor="middle" stroke="#333" stroke-width="0.12">4</text>
<text x="484.58" y="405.00" font-size="5" fill="#333" text-anchor="middle" stroke="#333" stroke-width="0.12">2</text>
<text x="506.59" y="405.00" font-size="5" fill="#333" text-anchor="middle" stroke="#333" stroke-width="0.12">2</text>
<text x="338.70" y="327.90" font-size="5" fill="#222"><tspan font-style="italic">P</tspan> = .043</text>
<text x="401.00" y="325.60" font-size="4.9" fill="#c8305a">Normal FEV1</text>
<text x="401.00" y="334.20" font-size="4.9" fill="#5cb25c">Moderate FEV1</text>
<text x="401.00" y="342.80" font-size="4.9" fill="#55aade">Severe FEV1</text>
<path d="M330.5 231.5 L332.5 231.5 L333.5 235.5 L334.5 238.5 L336.5 238.5 L337.5 243.5 L338.5 256.5 L339.5 267.5 L340.5 273.5 L341.5 279.5 L343.5 279.5 L344.5 284.5 L344.5 292.5 L376.5 292.5 L376.5 303.5 L465.5 303.5 L465.5 315.5 L513.5 315.5" fill="none" stroke="#b0ddf2" stroke-width="2.6" stroke-opacity="0.45"/>
<path d="M330.5 231.5 L332.5 231.5 L333.5 235.5 L334.5 238.5 L336.5 238.5 L337.5 243.5 L338.5 256.5 L339.5 267.5 L340.5 273.5 L341.5 279.5 L343.5 279.5 L344.5 284.5 L344.5 292.5 L376.5 292.5 L376.5 303.5 L465.5 303.5 L465.5 315.5 L513.5 315.5" fill="none" stroke="#4096c8" stroke-width="1"/>
<path d="M330.5 231.5 L332.5 231.5 L333.5 235.5 L334.5 238.5 L336.5 238.5 L337.5 243.5 L338.5 256.5 L339.5 267.5 L340.5 273.5 L341.5 279.5 L345.5 279.5 L345.5 284.5 L346.5 289.5 L351.5 289.5 L352.5 292.5 L354.5 295.5 L356.5 300.5 L360.5 301.5 L361.5 308.5 L397.5 308.5 L397.5 314.5 L453.5 314.5 L453.5 326.5 L513.5 326.5" fill="none" stroke="#b8e0b8" stroke-width="2.6" stroke-opacity="0.45"/>
<path d="M330.5 231.5 L332.5 231.5 L333.5 235.5 L334.5 238.5 L336.5 238.5 L337.5 243.5 L338.5 256.5 L339.5 267.5 L340.5 273.5 L341.5 279.5 L345.5 279.5 L345.5 284.5 L346.5 289.5 L351.5 289.5 L352.5 292.5 L354.5 295.5 L356.5 300.5 L360.5 301.5 L361.5 308.5 L397.5 308.5 L397.5 314.5 L453.5 314.5 L453.5 326.5 L513.5 326.5" fill="none" stroke="#4a9e4c" stroke-width="1"/>
<path d="M330.5 231.5 L332.5 231.5 L334.5 232.5 L335.5 235.5 L336.5 238.5 L338.5 243.5 L338.5 256.5 L340.5 258.5 L343.5 261.5 L348.5 265.5 L351.5 267.5 L353.5 270.5 L356.5 270.5 L358.5 274.5 L361.5 276.5 L365.5 277.5 L368.5 279.5 L376.5 281.5 L383.5 283.5 L387.5 287.5 L391.5 290.5 L395.5 292.5 L409.5 292.5 L409.5 295.5 L430.5 295.5 L430.5 299.5 L451.5 299.5 L451.5 302.5 L513.5 302.5" fill="none" stroke="#e8a0b4" stroke-width="2.6" stroke-opacity="0.45"/>
<path d="M330.5 231.5 L332.5 231.5 L334.5 232.5 L335.5 235.5 L336.5 238.5 L338.5 243.5 L338.5 256.5 L340.5 258.5 L343.5 261.5 L348.5 265.5 L351.5 267.5 L353.5 270.5 L356.5 270.5 L358.5 274.5 L361.5 276.5 L365.5 277.5 L368.5 279.5 L376.5 281.5 L383.5 283.5 L387.5 287.5 L391.5 290.5 L395.5 292.5 L409.5 292.5 L409.5 295.5 L430.5 295.5 L430.5 299.5 L451.5 299.5 L451.5 302.5 L513.5 302.5" fill="none" stroke="#b52a50" stroke-width="1"/>
<text x="6.30" y="430.70" font-size="11" fill="#000" font-weight="bold">C</text>
<path d="M69.50 436.60V557.50H252.92" fill="none" stroke="#111" stroke-width="1"/>
<path d="M66.50 439.50H69.50" stroke="#111" stroke-width="1"/>
<text x="63.70" y="441.00" font-size="5" fill="#333" text-anchor="end" stroke="#333" stroke-width="0.12">1.00</text>
<path d="M66.50 468.50H69.50" stroke="#111" stroke-width="1"/>
<text x="63.70" y="470.62" font-size="5" fill="#333" text-anchor="end" stroke="#333" stroke-width="0.12">0.75</text>
<path d="M66.50 498.50H69.50" stroke="#111" stroke-width="1"/>
<text x="63.70" y="500.25" font-size="5" fill="#333" text-anchor="end" stroke="#333" stroke-width="0.12">0.50</text>
<path d="M66.50 528.50H69.50" stroke="#111" stroke-width="1"/>
<text x="63.70" y="529.88" font-size="5" fill="#333" text-anchor="end" stroke="#333" stroke-width="0.12">0.25</text>
<path d="M66.50 557.50H69.50" stroke="#111" stroke-width="1"/>
<text x="63.70" y="559.50" font-size="5" fill="#333" text-anchor="end" stroke="#333" stroke-width="0.12">0.00</text>
<path d="M69.50 557.70V560.30" stroke="#111" stroke-width="1"/>
<text x="69.50" y="568.10" font-size="5" fill="#333" text-anchor="middle" stroke="#333" stroke-width="0.12">0</text>
<path d="M91.50 557.70V560.30" stroke="#111" stroke-width="1"/>
<text x="91.51" y="568.10" font-size="5" fill="#333" text-anchor="middle" stroke="#333" stroke-width="0.12">3</text>
<path d="M113.50 557.70V560.30" stroke="#111" stroke-width="1"/>
<text x="113.52" y="568.10" font-size="5" fill="#333" text-anchor="middle" stroke="#333" stroke-width="0.12">6</text>
<path d="M135.50 557.70V560.30" stroke="#111" stroke-width="1"/>
<text x="135.53" y="568.10" font-size="5" fill="#333" text-anchor="middle" stroke="#333" stroke-width="0.12">9</text>
<path d="M157.50 557.70V560.30" stroke="#111" stroke-width="1"/>
<text x="157.54" y="568.10" font-size="5" fill="#333" text-anchor="middle" stroke="#333" stroke-width="0.12">12</text>
<path d="M179.50 557.70V560.30" stroke="#111" stroke-width="1"/>
<text x="179.56" y="568.10" font-size="5" fill="#333" text-anchor="middle" stroke="#333" stroke-width="0.12">15</text>
<path d="M201.50 557.70V560.30" stroke="#111" stroke-width="1"/>
<text x="201.57" y="568.10" font-size="5" fill="#333" text-anchor="middle" stroke="#333" stroke-width="0.12">18</text>
<path d="M223.50 557.70V560.30" stroke="#111" stroke-width="1"/>
<text x="223.58" y="568.10" font-size="5" fill="#333" text-anchor="middle" stroke="#333" stroke-width="0.12">21</text>
<path d="M245.50 557.70V560.30" stroke="#111" stroke-width="1"/>
<text x="245.59" y="568.10" font-size="5" fill="#333" text-anchor="middle" stroke="#333" stroke-width="0.12">24</text>
<text x="161.21" y="578.30" font-size="7" fill="#111" stroke="#111" stroke-width="0.2" text-anchor="middle" textLength="33.5" lengthAdjust="spacingAndGlyphs">Time in months</text>
<text x="68.20" y="587.50" font-size="4.9" fill="#222" stroke="#222" stroke-width="0.12">Number at risk</text>
<text x="63.70" y="596.60" font-size="4.8" fill="#d04a72" text-anchor="end">Normal DLCO</text>
<text x="69.50" y="596.60" font-size="5" fill="#333" text-anchor="middle" stroke="#333" stroke-width="0.12">129</text>
<text x="91.51" y="596.60" font-size="5" fill="#333" text-anchor="middle" stroke="#333" stroke-width="0.12">112</text>
<text x="113.52" y="596.60" font-size="5" fill="#333" text-anchor="middle" stroke="#333" stroke-width="0.12">87</text>
<text x="135.53" y="596.60" font-size="5" fill="#333" text-anchor="middle" stroke="#333" stroke-width="0.12">66</text>
<text x="157.54" y="596.60" font-size="5" fill="#333" text-anchor="middle" stroke="#333" stroke-width="0.12">57</text>
<text x="179.56" y="596.60" font-size="5" fill="#333" text-anchor="middle" stroke="#333" stroke-width="0.12">42</text>
<text x="201.57" y="596.60" font-size="5" fill="#333" text-anchor="middle" stroke="#333" stroke-width="0.12">32</text>
<text x="223.58" y="596.60" font-size="5" fill="#333" text-anchor="middle" stroke="#333" stroke-width="0.12">23</text>
<text x="245.59" y="596.60" font-size="5" fill="#333" text-anchor="middle" stroke="#333" stroke-width="0.12">20</text>
<text x="63.70" y="604.90" font-size="4.8" fill="#66ba66" text-anchor="end">Moderate DLCO</text>
<text x="69.50" y="604.90" font-size="5" fill="#333" text-anchor="middle" stroke="#333" stroke-width="0.12">30</text>
<text x="91.51" y="604.90" font-size="5" fill="#333" text-anchor="middle" stroke="#333" stroke-width="0.12">26</text>
<text x="113.52" y="604.90" font-size="5" fill="#333" text-anchor="middle" stroke="#333" stroke-width="0.12">20</text>
<text x="135.53" y="604.90" font-size="5" fill="#333" text-anchor="middle" stroke="#333" stroke-width="0.12">14</text>
<text x="157.54" y="604.90" font-size="5" fill="#333" text-anchor="middle" stroke="#333" stroke-width="0.12">8</text>
<text x="179.56" y="604.90" font-size="5" fill="#333" text-anchor="middle" stroke="#333" stroke-width="0.12">7</text>
<text x="201.57" y="604.90" font-size="5" fill="#333" text-anchor="middle" stroke="#333" stroke-width="0.12">5</text>
<text x="223.58" y="604.90" font-size="5" fill="#333" text-anchor="middle" stroke="#333" stroke-width="0.12">2</text>
<text x="245.59" y="604.90" font-size="5" fill="#333" text-anchor="middle" stroke="#333" stroke-width="0.12">1</text>
<text x="63.70" y="613.20" font-size="4.8" fill="#62b4e2" text-anchor="end">Severe DLCO</text>
<text x="69.50" y="613.20" font-size="5" fill="#333" text-anchor="middle" stroke="#333" stroke-width="0.12">15</text>
<text x="91.51" y="613.20" font-size="5" fill="#333" text-anchor="middle" stroke="#333" stroke-width="0.12">14</text>
<text x="113.52" y="613.20" font-size="5" fill="#333" text-anchor="middle" stroke="#333" stroke-width="0.12">12</text>
<text x="135.53" y="613.20" font-size="5" fill="#333" text-anchor="middle" stroke="#333" stroke-width="0.12">11</text>
<text x="157.54" y="613.20" font-size="5" fill="#333" text-anchor="middle" stroke="#333" stroke-width="0.12">10</text>
<text x="179.56" y="613.20" font-size="5" fill="#333" text-anchor="middle" stroke="#333" stroke-width="0.12">8</text>
<text x="201.57" y="613.20" font-size="5" fill="#333" text-anchor="middle" stroke="#333" stroke-width="0.12">6</text>
<text x="223.58" y="613.20" font-size="5" fill="#333" text-anchor="middle" stroke="#333" stroke-width="0.12">5</text>
<text x="245.59" y="613.20" font-size="5" fill="#333" text-anchor="middle" stroke="#333" stroke-width="0.12">5</text>
<text x="78.80" y="535.50" font-size="5" fill="#222"><tspan font-style="italic">P</tspan> = .37</text>
<text x="142.00" y="529.60" font-size="4.9" fill="#c8305a">Normal DLCO</text>
<text x="142.00" y="538.10" font-size="4.9" fill="#5cb25c">Moderate DLCO</text>
<text x="142.00" y="546.60" font-size="4.9" fill="#55aade">Severe DLCO</text>
<path d="M69.5 439.5 L97.5 439.5 L97.5 448.5 L135.5 448.5 L135.5 457.5 L174.5 457.5 L174.5 468.5 L196.5 468.5 L196.5 481.5 L252.5 481.5" fill="none" stroke="#b0ddf2" stroke-width="2.6" stroke-opacity="0.45"/>
<path d="M69.5 439.5 L97.5 439.5 L97.5 448.5 L135.5 448.5 L135.5 457.5 L174.5 457.5 L174.5 468.5 L196.5 468.5 L196.5 481.5 L252.5 481.5" fill="none" stroke="#4096c8" stroke-width="1"/>
<path d="M69.5 439.5 L72.5 439.5 L72.5 441.5 L74.5 441.5 L74.5 443.5 L76.5 443.5 L76.5 447.5 L92.5 447.5 L92.5 451.5 L94.5 451.5 L94.5 454.5 L105.5 454.5 L106.5 457.5 L111.5 459.5 L115.5 460.5 L116.5 462.5 L117.5 465.5 L119.5 471.5 L119.5 473.5 L123.5 473.5 L124.5 477.5 L124.5 479.5 L133.5 479.5 L134.5 481.5 L135.5 484.5 L139.5 489.5 L143.5 497.5 L204.5 497.5 L204.5 509.5 L252.5 509.5" fill="none" stroke="#b8e0b8" stroke-width="2.6" stroke-opacity="0.45"/>
<path d="M69.5 439.5 L72.5 439.5 L72.5 441.5 L74.5 441.5 L74.5 443.5 L76.5 443.5 L76.5 447.5 L92.5 447.5 L92.5 451.5 L94.5 451.5 L94.5 454.5 L105.5 454.5 L106.5 457.5 L111.5 459.5 L115.5 460.5 L116.5 462.5 L117.5 465.5 L119.5 471.5 L119.5 473.5 L123.5 473.5 L124.5 477.5 L124.5 479.5 L133.5 479.5 L134.5 481.5 L135.5 484.5 L139.5 489.5 L143.5 497.5 L204.5 497.5 L204.5 509.5 L252.5 509.5" fill="none" stroke="#4a9e4c" stroke-width="1"/>
<path d="M69.5 439.5 L77.5 439.5 L85.5 445.5 L92.5 451.5 L98.5 454.5 L103.5 458.5 L110.5 461.5 L119.5 462.5 L125.5 467.5 L128.5 468.5 L131.5 471.5 L134.5 474.5 L135.5 474.5 L141.5 474.5 L142.5 476.5 L157.5 476.5 L161.5 478.5 L164.5 481.5 L166.5 483.5 L170.5 485.5 L172.5 487.5 L180.5 487.5 L182.5 489.5 L186.5 491.5 L191.5 493.5 L207.5 493.5 L209.5 498.5 L252.5 498.5" fill="none" stroke="#e8a0b4" stroke-width="2.6" stroke-opacity="0.45"/>
<path d="M69.5 439.5 L77.5 439.5 L85.5 445.5 L92.5 451.5 L98.5 454.5 L103.5 458.5 L110.5 461.5 L119.5 462.5 L125.5 467.5 L128.5 468.5 L131.5 471.5 L134.5 474.5 L135.5 474.5 L141.5 474.5 L142.5 476.5 L157.5 476.5 L161.5 478.5 L164.5 481.5 L166.5 483.5 L170.5 485.5 L172.5 487.5 L180.5 487.5 L182.5 489.5 L186.5 491.5 L191.5 493.5 L207.5 493.5 L209.5 498.5 L252.5 498.5" fill="none" stroke="#b52a50" stroke-width="1"/>
<text x="267.30" y="430.70" font-size="11" fill="#000" font-weight="bold">F</text>
<path d="M330.50 436.60V557.50H513.92" fill="none" stroke="#111" stroke-width="1"/>
<path d="M327.50 439.50H330.50" stroke="#111" stroke-width="1"/>
<text x="324.70" y="441.00" font-size="5" fill="#333" text-anchor="end" stroke="#333" stroke-width="0.12">1.00</text>
<path d="M327.50 468.50H330.50" stroke="#111" stroke-width="1"/>
<text x="324.70" y="470.62" font-size="5" fill="#333" text-anchor="end" stroke="#333" stroke-width="0.12">0.75</text>
<path d="M327.50 498.50H330.50" stroke="#111" stroke-width="1"/>
<text x="324.70" y="500.25" font-size="5" fill="#333" text-anchor="end" stroke="#333" stroke-width="0.12">0.50</text>
<path d="M327.50 528.50H330.50" stroke="#111" stroke-width="1"/>
<text x="324.70" y="529.88" font-size="5" fill="#333" text-anchor="end" stroke="#333" stroke-width="0.12">0.25</text>
<path d="M327.50 557.50H330.50" stroke="#111" stroke-width="1"/>
<text x="324.70" y="559.50" font-size="5" fill="#333" text-anchor="end" stroke="#333" stroke-width="0.12">0.00</text>
<path d="M330.50 557.70V560.30" stroke="#111" stroke-width="1"/>
<text x="330.50" y="568.10" font-size="5" fill="#333" text-anchor="middle" stroke="#333" stroke-width="0.12">0</text>
<path d="M352.50 557.70V560.30" stroke="#111" stroke-width="1"/>
<text x="352.51" y="568.10" font-size="5" fill="#333" text-anchor="middle" stroke="#333" stroke-width="0.12">3</text>
<path d="M374.50 557.70V560.30" stroke="#111" stroke-width="1"/>
<text x="374.52" y="568.10" font-size="5" fill="#333" text-anchor="middle" stroke="#333" stroke-width="0.12">6</text>
<path d="M396.50 557.70V560.30" stroke="#111" stroke-width="1"/>
<text x="396.53" y="568.10" font-size="5" fill="#333" text-anchor="middle" stroke="#333" stroke-width="0.12">9</text>
<path d="M418.50 557.70V560.30" stroke="#111" stroke-width="1"/>
<text x="418.54" y="568.10" font-size="5" fill="#333" text-anchor="middle" stroke="#333" stroke-width="0.12">12</text>
<path d="M440.50 557.70V560.30" stroke="#111" stroke-width="1"/>
<text x="440.56" y="568.10" font-size="5" fill="#333" text-anchor="middle" stroke="#333" stroke-width="0.12">15</text>
<path d="M462.50 557.70V560.30" stroke="#111" stroke-width="1"/>
<text x="462.57" y="568.10" font-size="5" fill="#333" text-anchor="middle" stroke="#333" stroke-width="0.12">18</text>
<path d="M484.50 557.70V560.30" stroke="#111" stroke-width="1"/>
<text x="484.58" y="568.10" font-size="5" fill="#333" text-anchor="middle" stroke="#333" stroke-width="0.12">21</text>
<path d="M506.50 557.70V560.30" stroke="#111" stroke-width="1"/>
<text x="506.59" y="568.10" font-size="5" fill="#333" text-anchor="middle" stroke="#333" stroke-width="0.12">24</text>
<text x="422.21" y="578.30" font-size="7" fill="#111" stroke="#111" stroke-width="0.2" text-anchor="middle" textLength="33.5" lengthAdjust="spacingAndGlyphs">Time in months</text>
<text x="329.20" y="587.50" font-size="4.9" fill="#222" stroke="#222" stroke-width="0.12">Number at risk</text>
<text x="324.70" y="596.60" font-size="4.8" fill="#d04a72" text-anchor="end">Normal DLCO</text>
<text x="330.50" y="596.60" font-size="5" fill="#333" text-anchor="middle" stroke="#333" stroke-width="0.12">129</text>
<text x="352.51" y="596.60" font-size="5" fill="#333" text-anchor="middle" stroke="#333" stroke-width="0.12">68</text>
<text x="374.52" y="596.60" font-size="5" fill="#333" text-anchor="middle" stroke="#333" stroke-width="0.12">43</text>
<text x="396.53" y="596.60" font-size="5" fill="#333" text-anchor="middle" stroke="#333" stroke-width="0.12">30</text>
<text x="418.54" y="596.60" font-size="5" fill="#333" text-anchor="middle" stroke="#333" stroke-width="0.12">25</text>
<text x="440.56" y="596.60" font-size="5" fill="#333" text-anchor="middle" stroke="#333" stroke-width="0.12">20</text>
<text x="462.57" y="596.60" font-size="5" fill="#333" text-anchor="middle" stroke="#333" stroke-width="0.12">15</text>
<text x="484.58" y="596.60" font-size="5" fill="#333" text-anchor="middle" stroke="#333" stroke-width="0.12">11</text>
<text x="506.59" y="596.60" font-size="5" fill="#333" text-anchor="middle" stroke="#333" stroke-width="0.12">9</text>
<text x="324.70" y="604.90" font-size="4.8" fill="#66ba66" text-anchor="end">Moderate DLCO</text>
<text x="330.50" y="604.90" font-size="5" fill="#333" text-anchor="middle" stroke="#333" stroke-width="0.12">30</text>
<text x="352.51" y="604.90" font-size="5" fill="#333" text-anchor="middle" stroke="#333" stroke-width="0.12">14</text>
<text x="374.52" y="604.90" font-size="5" fill="#333" text-anchor="middle" stroke="#333" stroke-width="0.12">9</text>
<text x="396.53" y="604.90" font-size="5" fill="#333" text-anchor="middle" stroke="#333" stroke-width="0.12">8</text>
<text x="418.54" y="604.90" font-size="5" fill="#333" text-anchor="middle" stroke="#333" stroke-width="0.12">6</text>
<text x="440.56" y="604.90" font-size="5" fill="#333" text-anchor="middle" stroke="#333" stroke-width="0.12">5</text>
<text x="462.57" y="604.90" font-size="5" fill="#333" text-anchor="middle" stroke="#333" stroke-width="0.12">3</text>
<text x="484.58" y="604.90" font-size="5" fill="#333" text-anchor="middle" stroke="#333" stroke-width="0.12">0</text>
<text x="506.59" y="604.90" font-size="5" fill="#333" text-anchor="middle" stroke="#333" stroke-width="0.12">0</text>
<text x="324.70" y="613.20" font-size="4.8" fill="#62b4e2" text-anchor="end">Severe DLCO</text>
<text x="330.50" y="613.20" font-size="5" fill="#333" text-anchor="middle" stroke="#333" stroke-width="0.12">15</text>
<text x="352.51" y="613.20" font-size="5" fill="#333" text-anchor="middle" stroke="#333" stroke-width="0.12">7</text>
<text x="374.52" y="613.20" font-size="5" fill="#333" text-anchor="middle" stroke="#333" stroke-width="0.12">7</text>
<text x="396.53" y="613.20" font-size="5" fill="#333" text-anchor="middle" stroke="#333" stroke-width="0.12">4</text>
<text x="418.54" y="613.20" font-size="5" fill="#333" text-anchor="middle" stroke="#333" stroke-width="0.12">4</text>
<text x="440.56" y="613.20" font-size="5" fill="#333" text-anchor="middle" stroke="#333" stroke-width="0.12">3</text>
<text x="462.57" y="613.20" font-size="5" fill="#333" text-anchor="middle" stroke="#333" stroke-width="0.12">2</text>
<text x="484.58" y="613.20" font-size="5" fill="#333" text-anchor="middle" stroke="#333" stroke-width="0.12">2</text>
<text x="506.59" y="613.20" font-size="5" fill="#333" text-anchor="middle" stroke="#333" stroke-width="0.12">2</text>
<text x="339.20" y="535.70" font-size="5" fill="#222"><tspan font-style="italic">P</tspan> = .94</text>
<text x="405.80" y="532.50" font-size="4.9" fill="#c8305a">Normal DLCO</text>
<text x="405.80" y="540.90" font-size="4.9" fill="#5cb25c">Moderate DLCO</text>
<text x="405.80" y="549.30" font-size="4.9" fill="#55aade">Severe DLCO</text>
<path d="M330.5 439.5 L337.5 439.5 L338.5 447.5 L339.5 463.5 L344.5 463.5 L344.5 471.5 L351.5 471.5 L351.5 482.5 L376.5 482.5 L376.5 493.5 L394.5 493.5 L394.5 506.5 L513.5 506.5" fill="none" stroke="#b0ddf2" stroke-width="2.6" stroke-opacity="0.45"/>
<path d="M330.5 439.5 L337.5 439.5 L338.5 447.5 L339.5 463.5 L344.5 463.5 L344.5 471.5 L351.5 471.5 L351.5 482.5 L376.5 482.5 L376.5 493.5 L394.5 493.5 L394.5 506.5 L513.5 506.5" fill="none" stroke="#4096c8" stroke-width="1"/>
<path d="M330.5 439.5 L332.5 442.5 L335.5 447.5 L337.5 459.5 L338.5 470.5 L341.5 475.5 L346.5 477.5 L349.5 480.5 L352.5 484.5 L355.5 490.5 L363.5 490.5 L364.5 496.5 L367.5 501.5 L453.5 501.5 L453.5 515.5 L465.5 515.5 L465.5 530.5 L476.5 530.5" fill="none" stroke="#b8e0b8" stroke-width="2.6" stroke-opacity="0.45"/>
<path d="M330.5 439.5 L332.5 442.5 L335.5 447.5 L337.5 459.5 L338.5 470.5 L341.5 475.5 L346.5 477.5 L349.5 480.5 L352.5 484.5 L355.5 490.5 L363.5 490.5 L364.5 496.5 L367.5 501.5 L453.5 501.5 L453.5 515.5 L465.5 515.5 L465.5 530.5 L476.5 530.5" fill="none" stroke="#4a9e4c" stroke-width="1"/>
<path d="M330.5 439.5 L332.5 439.5 L333.5 441.5 L335.5 445.5 L337.5 456.5 L338.5 466.5 L340.5 472.5 L342.5 474.5 L345.5 476.5 L348.5 479.5 L351.5 481.5 L355.5 484.5 L359.5 488.5 L362.5 491.5 L369.5 492.5 L373.5 494.5 L380.5 494.5 L384.5 497.5 L386.5 500.5 L390.5 504.5 L393.5 505.5 L398.5 506.5 L409.5 506.5 L409.5 510.5 L430.5 510.5 L430.5 512.5 L452.5 512.5 L452.5 515.5 L513.5 515.5" fill="none" stroke="#e8a0b4" stroke-width="2.6" stroke-opacity="0.45"/>
<path d="M330.5 439.5 L332.5 439.5 L333.5 441.5 L335.5 445.5 L337.5 456.5 L338.5 466.5 L340.5 472.5 L342.5 474.5 L345.5 476.5 L348.5 479.5 L351.5 481.5 L355.5 484.5 L359.5 488.5 L362.5 491.5 L369.5 492.5 L373.5 494.5 L380.5 494.5 L384.5 497.5 L386.5 500.5 L390.5 504.5 L393.5 505.5 L398.5 506.5 L409.5 506.5 L409.5 510.5 L430.5 510.5 L430.5 512.5 L452.5 512.5 L452.5 515.5 L513.5 515.5" fill="none" stroke="#b52a50" stroke-width="1"/>
<path d="M460.5 93.5V95.5M477.5 93.5V95.5M484.5 93.5V95.5M491.5 93.5V95.5M496.5 93.5V95.5" stroke="#b52a50" stroke-width="1"/>
<path d="M415.5 86.5V88.5M420.5 86.5V88.5M425.5 86.5V88.5" stroke="#b52a50" stroke-width="1"/>
<path d="M477.5 103.5V105.5" stroke="#4096c8" stroke-width="1"/>
<path d="M471.5 106.5V108.5M476.5 106.5V108.5" stroke="#4a9e4c" stroke-width="1"/>
<path d="M418.5 90.5V92.5M440.5 90.5V92.5" stroke="#4096c8" stroke-width="1"/>
<path d="M405.5 98.5V100.5M426.5 98.5V100.5" stroke="#4a9e4c" stroke-width="1"/>
<path d="M455.5 301.5V303.5M459.5 301.5V303.5M470.5 301.5V303.5M476.5 301.5V303.5M477.5 301.5V303.5M484.5 301.5V303.5M490.5 301.5V303.5M496.5 301.5V303.5" stroke="#b52a50" stroke-width="1"/>
<path d="M435.5 298.5V300.5M440.5 298.5V300.5M445.5 298.5V300.5M448.5 298.5V300.5" stroke="#b52a50" stroke-width="1"/>
<path d="M412.5 294.5V296.5M416.5 294.5V296.5M421.5 294.5V296.5M425.5 294.5V296.5M427.5 294.5V296.5" stroke="#b52a50" stroke-width="1"/>
<path d="M477.5 314.5V316.5" stroke="#4096c8" stroke-width="1"/>
<path d="M403.5 313.5V315.5M425.5 313.5V315.5" stroke="#4a9e4c" stroke-width="1"/>
<path d="M426.5 500.5V502.5M440.5 500.5V502.5" stroke="#4a9e4c" stroke-width="1"/>
<path d="M418.5 505.5V507.5M443.5 505.5V507.5" stroke="#4096c8" stroke-width="1"/>
<path d="M420.5 509.5V511.5M425.5 509.5V511.5" stroke="#b52a50" stroke-width="1"/>
<path d="M440.5 511.5V513.5M445.5 511.5V513.5" stroke="#b52a50" stroke-width="1"/>
<path d="M460.5 514.5V516.5M478.5 514.5V516.5M484.5 514.5V516.5M491.5 514.5V516.5" stroke="#b52a50" stroke-width="1"/>
<path d="M472.5 529.5V531.5" stroke="#4a9e4c" stroke-width="1"/>
<path d="M366.5 68.5V70.5M370.5 68.5V70.5" stroke="#b52a50" stroke-width="1"/>
<path d="M375.5 70.5V72.5" stroke="#b52a50" stroke-width="1"/>
<path d="M381.5 72.5V74.5" stroke="#b52a50" stroke-width="1"/>
<path d="M348.5 55.5V57.5" stroke="#b52a50" stroke-width="1"/>
<path d="M361.5 275.5V277.5" stroke="#b52a50" stroke-width="1"/>
<path d="M368.5 278.5V280.5" stroke="#b52a50" stroke-width="1"/>
<path d="M376.5 280.5V282.5" stroke="#b52a50" stroke-width="1"/>
<path d="M383.5 282.5V284.5" stroke="#b52a50" stroke-width="1"/>
<path d="M400.5 291.5V293.5M405.5 291.5V293.5" stroke="#b52a50" stroke-width="1"/>
<path d="M369.5 491.5V493.5" stroke="#b52a50" stroke-width="1"/>
<path d="M380.5 493.5V495.5" stroke="#b52a50" stroke-width="1"/>
<path d="M400.5 505.5V507.5M405.5 505.5V507.5" stroke="#b52a50" stroke-width="1"/>
<rect x="0" y="0" width="520" height="1" fill="#7a7a7a"/>
<rect x="0" y="0" width="1" height="620" fill="#7c7c7c"/>
<rect x="519" y="0" width="1" height="620" fill="#6a6a6a"/>
<rect x="0" y="618" width="520" height="1" fill="#c4c4c4"/>
<rect x="0" y="619" width="520" height="1" fill="#626262"/>
</svg>
</body></html>
